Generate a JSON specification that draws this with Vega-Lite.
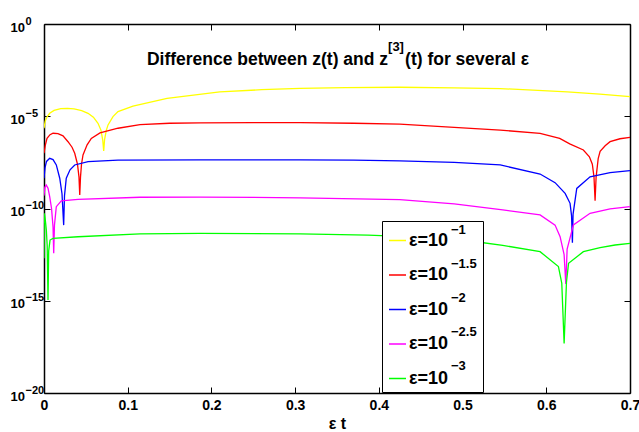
{
  "$schema": "https://vega.github.io/schema/vega-lite/v6.json",
  "width": 586,
  "height": 369,
  "autosize": {"type": "none"},
  "padding": {"left": 44, "top": 24, "right": 9, "bottom": 39},
  "background": "white",
  "config": {"view": {"stroke": null}, "font": "Liberation Sans"},
  "datasets": {
    "curves": [
      {"e": "−1", "t": 0, "v": 2.24e-6},
      {"e": "−1", "t": 0.0015, "v": 5.62e-6},
      {"e": "−1", "t": 0.004, "v": 1.0e-5},
      {"e": "−1", "t": 0.0068, "v": 1.45e-5},
      {"e": "−1", "t": 0.012, "v": 2.09e-5},
      {"e": "−1", "t": 0.02, "v": 2.57e-5},
      {"e": "−1", "t": 0.028, "v": 2.69e-5},
      {"e": "−1", "t": 0.036, "v": 2.51e-5},
      {"e": "−1", "t": 0.045, "v": 2.0e-5},
      {"e": "−1", "t": 0.0526, "v": 1.45e-5},
      {"e": "−1", "t": 0.059, "v": 8.9e-6},
      {"e": "−1", "t": 0.0645, "v": 4.17e-6},
      {"e": "−1", "t": 0.068, "v": 1.78e-6},
      {"e": "−1", "t": 0.0702, "v": 5.0e-7},
      {"e": "−1", "t": 0.0713, "v": 1.32e-7},
      {"e": "−1", "t": 0.0724, "v": 5.62e-7},
      {"e": "−1", "t": 0.0745, "v": 1.78e-6},
      {"e": "−1", "t": 0.0765, "v": 3.39e-6},
      {"e": "−1", "t": 0.0824, "v": 9.55e-6},
      {"e": "−1", "t": 0.0884, "v": 1.78e-5},
      {"e": "−1", "t": 0.1063, "v": 3.55e-5},
      {"e": "−1", "t": 0.147, "v": 9.33e-5},
      {"e": "−1", "t": 0.21, "v": 2.09e-4},
      {"e": "−1", "t": 0.26, "v": 2.75e-4},
      {"e": "−1", "t": 0.306, "v": 3.24e-4},
      {"e": "−1", "t": 0.36, "v": 3.55e-4},
      {"e": "−1", "t": 0.425, "v": 3.72e-4},
      {"e": "−1", "t": 0.49, "v": 3.47e-4},
      {"e": "−1", "t": 0.545, "v": 3.16e-4},
      {"e": "−1", "t": 0.59, "v": 2.51e-4},
      {"e": "−1", "t": 0.625, "v": 2.09e-4},
      {"e": "−1", "t": 0.664, "v": 1.58e-4},
      {"e": "−1", "t": 0.7, "v": 1.15e-4},

      {"e": "−1.5", "t": 0, "v": 1.0e-7},
      {"e": "−1.5", "t": 0.0016, "v": 2.75e-7},
      {"e": "−1.5", "t": 0.0036, "v": 6.31e-7},
      {"e": "−1.5", "t": 0.0072, "v": 1.0e-6},
      {"e": "−1.5", "t": 0.0108, "v": 1.2e-6},
      {"e": "−1.5", "t": 0.0167, "v": 1.15e-6},
      {"e": "−1.5", "t": 0.0227, "v": 8.7e-7},
      {"e": "−1.5", "t": 0.0287, "v": 4.17e-7},
      {"e": "−1.5", "t": 0.0335, "v": 2.09e-7},
      {"e": "−1.5", "t": 0.0367, "v": 9.8e-8},
      {"e": "−1.5", "t": 0.04, "v": 2.51e-8},
      {"e": "−1.5", "t": 0.0418, "v": 5.0e-9},
      {"e": "−1.5", "t": 0.0427, "v": 5.37e-10},
      {"e": "−1.5", "t": 0.0436, "v": 5.0e-9},
      {"e": "−1.5", "t": 0.0448, "v": 2.51e-8},
      {"e": "−1.5", "t": 0.0466, "v": 7.94e-8},
      {"e": "−1.5", "t": 0.0515, "v": 2.82e-7},
      {"e": "−1.5", "t": 0.0565, "v": 6.31e-7},
      {"e": "−1.5", "t": 0.0669, "v": 1.26e-6},
      {"e": "−1.5", "t": 0.0884, "v": 2.24e-6},
      {"e": "−1.5", "t": 0.1147, "v": 3.55e-6},
      {"e": "−1.5", "t": 0.15, "v": 4.17e-6},
      {"e": "−1.5", "t": 0.1864, "v": 4.37e-6},
      {"e": "−1.5", "t": 0.25, "v": 4.57e-6},
      {"e": "−1.5", "t": 0.306, "v": 4.47e-6},
      {"e": "−1.5", "t": 0.37, "v": 4.17e-6},
      {"e": "−1.5", "t": 0.425, "v": 3.72e-6},
      {"e": "−1.5", "t": 0.49, "v": 2.51e-6},
      {"e": "−1.5", "t": 0.545, "v": 1.78e-6},
      {"e": "−1.5", "t": 0.5926, "v": 1.17e-6},
      {"e": "−1.5", "t": 0.616, "v": 6.31e-7},
      {"e": "−1.5", "t": 0.628, "v": 3.16e-7},
      {"e": "−1.5", "t": 0.6443, "v": 1.48e-7},
      {"e": "−1.5", "t": 0.6515, "v": 6.31e-8},
      {"e": "−1.5", "t": 0.655, "v": 2.51e-8},
      {"e": "−1.5", "t": 0.657, "v": 5.0e-9},
      {"e": "−1.5", "t": 0.6583, "v": 2.63e-10},
      {"e": "−1.5", "t": 0.6595, "v": 5.0e-9},
      {"e": "−1.5", "t": 0.662, "v": 5.0e-8},
      {"e": "−1.5", "t": 0.6643, "v": 1.26e-7},
      {"e": "−1.5", "t": 0.6703, "v": 2.51e-7},
      {"e": "−1.5", "t": 0.6762, "v": 4.17e-7},
      {"e": "−1.5", "t": 0.688, "v": 6.03e-7},
      {"e": "−1.5", "t": 0.7, "v": 7.24e-7},

      {"e": "−2", "t": 0, "v": 4.37e-9},
      {"e": "−2", "t": 0.0012, "v": 1.58e-8},
      {"e": "−2", "t": 0.003, "v": 3.55e-8},
      {"e": "−2", "t": 0.0068, "v": 5.25e-8},
      {"e": "−2", "t": 0.0108, "v": 4.47e-8},
      {"e": "−2", "t": 0.0147, "v": 2.29e-8},
      {"e": "−2", "t": 0.0188, "v": 4.37e-9},
      {"e": "−2", "t": 0.0215, "v": 6.31e-10},
      {"e": "−2", "t": 0.0235, "v": 1.26e-11},
      {"e": "−2", "t": 0.0245, "v": 5.0e-10},
      {"e": "−2", "t": 0.0266, "v": 4.37e-9},
      {"e": "−2", "t": 0.0311, "v": 1.26e-8},
      {"e": "−2", "t": 0.0367, "v": 2.29e-8},
      {"e": "−2", "t": 0.0526, "v": 3.47e-8},
      {"e": "−2", "t": 0.0884, "v": 4.17e-8},
      {"e": "−2", "t": 0.1864, "v": 4.27e-8},
      {"e": "−2", "t": 0.306, "v": 4.27e-8},
      {"e": "−2", "t": 0.37, "v": 4.17e-8},
      {"e": "−2", "t": 0.425, "v": 3.8e-8},
      {"e": "−2", "t": 0.49, "v": 3.16e-8},
      {"e": "−2", "t": 0.545, "v": 2.29e-8},
      {"e": "−2", "t": 0.5926, "v": 7.41e-9},
      {"e": "−2", "t": 0.6105, "v": 2.51e-9},
      {"e": "−2", "t": 0.6225, "v": 6.61e-10},
      {"e": "−2", "t": 0.6284, "v": 1.91e-10},
      {"e": "−2", "t": 0.6302, "v": 3.98e-11},
      {"e": "−2", "t": 0.6312, "v": 1.41e-12},
      {"e": "−2", "t": 0.632, "v": 5.0e-11},
      {"e": "−2", "t": 0.6364, "v": 1.23e-9},
      {"e": "−2", "t": 0.6523, "v": 5.25e-9},
      {"e": "−2", "t": 0.6762, "v": 8.91e-9},
      {"e": "−2", "t": 0.7, "v": 1.12e-8},

      {"e": "−2.5", "t": 0, "v": 5.0e-10},
      {"e": "−2.5", "t": 0.001, "v": 1.41e-9},
      {"e": "−2.5", "t": 0.0027, "v": 1.86e-9},
      {"e": "−2.5", "t": 0.0048, "v": 1.26e-9},
      {"e": "−2.5", "t": 0.0068, "v": 4.37e-10},
      {"e": "−2.5", "t": 0.009, "v": 1.0e-10},
      {"e": "−2.5", "t": 0.0108, "v": 1.0e-11},
      {"e": "−2.5", "t": 0.0116, "v": 3.72e-13},
      {"e": "−2.5", "t": 0.0125, "v": 1.26e-11},
      {"e": "−2.5", "t": 0.0147, "v": 1.26e-10},
      {"e": "−2.5", "t": 0.0207, "v": 2.63e-10},
      {"e": "−2.5", "t": 0.0406, "v": 3.16e-10},
      {"e": "−2.5", "t": 0.1147, "v": 4.07e-10},
      {"e": "−2.5", "t": 0.1864, "v": 4.17e-10},
      {"e": "−2.5", "t": 0.306, "v": 3.8e-10},
      {"e": "−2.5", "t": 0.425, "v": 3.02e-10},
      {"e": "−2.5", "t": 0.49, "v": 1.78e-10},
      {"e": "−2.5", "t": 0.548, "v": 8.32e-11},
      {"e": "−2.5", "t": 0.5926, "v": 4.47e-11},
      {"e": "−2.5", "t": 0.6105, "v": 1.26e-11},
      {"e": "−2.5", "t": 0.6165, "v": 2.95e-12},
      {"e": "−2.5", "t": 0.6213, "v": 3.16e-13},
      {"e": "−2.5", "t": 0.6233, "v": 8.13e-15},
      {"e": "−2.5", "t": 0.6249, "v": 6.31e-13},
      {"e": "−2.5", "t": 0.6324, "v": 1.29e-11},
      {"e": "−2.5", "t": 0.6523, "v": 5.5e-11},
      {"e": "−2.5", "t": 0.6762, "v": 9.55e-11},
      {"e": "−2.5", "t": 0.7, "v": 1.26e-10},

      {"e": "−3", "t": 0, "v": 2.0e-13},
      {"e": "−3", "t": 0.0004, "v": 5.5e-11},
      {"e": "−3", "t": 0.0015, "v": 2.51e-11},
      {"e": "−3", "t": 0.0028, "v": 6.76e-12},
      {"e": "−3", "t": 0.0038, "v": 1.0e-12},
      {"e": "−3", "t": 0.0048, "v": 1.1e-15},
      {"e": "−3", "t": 0.0056, "v": 5.0e-13},
      {"e": "−3", "t": 0.0072, "v": 1.95e-12},
      {"e": "−3", "t": 0.0108, "v": 2.4e-12},
      {"e": "−3", "t": 0.0406, "v": 2.95e-12},
      {"e": "−3", "t": 0.1147, "v": 4.17e-12},
      {"e": "−3", "t": 0.1864, "v": 4.47e-12},
      {"e": "−3", "t": 0.306, "v": 4.17e-12},
      {"e": "−3", "t": 0.387, "v": 3.63e-12},
      {"e": "−3", "t": 0.45, "v": 2.82e-12},
      {"e": "−3", "t": 0.516, "v": 1.58e-12},
      {"e": "−3", "t": 0.548, "v": 1.0e-12},
      {"e": "−3", "t": 0.5926, "v": 4.57e-13},
      {"e": "−3", "t": 0.6145, "v": 7.08e-14},
      {"e": "−3", "t": 0.6185, "v": 8.91e-15},
      {"e": "−3", "t": 0.6213, "v": 4.9e-18},
      {"e": "−3", "t": 0.6241, "v": 1.0e-14},
      {"e": "−3", "t": 0.6266, "v": 1.07e-13},
      {"e": "−3", "t": 0.6443, "v": 4.57e-13},
      {"e": "−3", "t": 0.6643, "v": 7.59e-13},
      {"e": "−3", "t": 0.6822, "v": 1.05e-12},
      {"e": "−3", "t": 0.7, "v": 1.29e-12}
    ]
  },
  "layer": [
    {
      "data": {"name": "curves"},
      "mark": {"type": "line", "clip": true},
      "encoding": {
        "x": {
          "field": "t", "type": "quantitative",
          "scale": {"domain": [0, 0.7], "nice": false, "zero": false},
          "axis": {
            "values": [0, 0.1, 0.2, 0.3, 0.4, 0.5, 0.6, 0.7],
            "labelExpr": "datum.value == 0 ? '0' : format(datum.value, '.1f')",
            "title": "ε t",
            "titleFont": "Liberation Sans", "titleFontWeight": "bold", "titleFontSize": 16, "titleColor": "black", "titlePadding": 3,
            "labelFont": "Liberation Sans", "labelFontWeight": "bold", "labelFontSize": 14, "labelColor": "black", "labelPadding": 5,
            "labelFlush": false, "ticks": false,
            "domainColor": "black", "domainWidth": 1.5, "grid": false
          }
        },
        "y": {
          "field": "v", "type": "quantitative",
          "scale": {"type": "log", "domain": [1e-20, 1], "nice": false},
          "axis": {
            "values": [1e-20, 1e-15, 1e-10, 1e-5, 1],
            "labelExpr": "'10'",
            "title": null,
            "labelFont": "Liberation Sans", "labelFontWeight": "bold", "labelFontSize": 13, "labelColor": "black",
            "labelAlign": "left", "labelPadding": 34, "labelOffset": 3,
            "ticks": false,
            "domainColor": "black", "domainWidth": 1.5, "grid": false
          }
        },
        "color": {
          "field": "e", "type": "nominal",
          "scale": {
            "domain": ["−1", "−1.5", "−2", "−2.5", "−3"],
            "range": ["#FFFF00", "#FF0000", "#0000FF", "#FF00FF", "#00FF00"]
          },
          "legend": {
            "title": null, "orient": "none", "legendX": 338, "legendY": 201, "zindex": 2,
            "labelExpr": "'ε=10'",
            "symbolType": "stroke", "symbolSize": 289, "symbolStrokeWidth": 1.5,
            "labelFont": "Liberation Sans", "labelFontWeight": "bold", "labelFontSize": 18, "labelColor": "black",
            "labelOffset": 2, "labelLimit": 200,
            "padding": 6, "rowPadding": 15.5
          }
        },
        "strokeWidth": {
          "field": "e", "type": "nominal",
          "sort": ["−1", "−1.5", "−2", "−2.5", "−3"],
          "scale": {"type": "ordinal", "range": [1.3, 1.3, 1.3, 1.3, 1.3]},
          "legend": {
            "title": "⠀", "titleOrient": "bottom", "titleFontSize": 9, "titlePadding": 4,
            "orient": "none", "legendX": 338, "legendY": 197, "zindex": 1,
            "symbolType": "stroke", "symbolSize": 289, "symbolOpacity": 0, "symbolStrokeColor": "white",
            "labelFont": "Liberation Sans", "labelFontWeight": "bold", "labelFontSize": 13, "labelColor": "black",
            "labelBaseline": "bottom", "labelOffset": 44, "labelLimit": 200,
            "strokeColor": "black", "fillColor": "white",
            "padding": 6, "rowPadding": 20
          }
        }
      }
    },
    {
      "data": {"values": [{}]},
      "mark": {"type": "text", "font": "Liberation Sans", "fontWeight": "bold", "fontSize": 17.5, "align": "right", "baseline": "alphabetic", "color": "black"},
      "encoding": {
        "text": {"value": "Difference between z(t) and z"},
        "x": {"datum": 0.411, "type": "quantitative",
          "axis": {"orient": "top", "labels": false, "title": null, "values": [0, 0.1, 0.2, 0.3, 0.4, 0.5, 0.6, 0.7], "tickSize": -6, "tickColor": "black", "domainColor": "black", "domainWidth": 1.5, "grid": false}},
        "y": {"datum": 0.006, "type": "quantitative",
          "axis": {"orient": "right", "labels": false, "title": null, "values": [1e-20, 1e-15, 1e-10, 1e-5, 1], "tickSize": -6, "tickColor": "black", "domainColor": "black", "domainWidth": 1.5, "grid": false}}
      }
    },
    {
      "data": {"values": [{}]},
      "mark": {"type": "text", "font": "Liberation Sans", "fontWeight": "bold", "fontSize": 13, "align": "left", "baseline": "alphabetic", "color": "black"},
      "encoding": {
        "text": {"value": "[3]"},
        "x": {"datum": 0.411, "type": "quantitative",
          "axis": {"orient": "bottom", "labels": false, "title": null, "domain": false, "values": [0, 0.1, 0.2, 0.3, 0.4, 0.5, 0.6, 0.7], "tickSize": -6, "tickColor": "black", "grid": false}},
        "y": {"datum": 0.0366, "type": "quantitative",
          "axis": {"orient": "left", "title": null, "domain": false, "ticks": false, "grid": false,
            "values": [1e-20, 1e-15, 1e-10, 1e-5, 1],
            "labelExpr": "datum.value > 0.1 ? '0' : datum.value > 1e-6 ? '−5' : datum.value > 1e-11 ? '−10' : datum.value > 1e-16 ? '−15' : '−20'",
            "labelFont": "Liberation Sans", "labelFontWeight": "bold", "labelFontSize": 11, "labelColor": "black",
            "labelAlign": "left", "labelPadding": 19, "labelOffset": -3}}
      }
    },
    {
      "data": {"values": [{}]},
      "mark": {"type": "text", "font": "Liberation Sans", "fontWeight": "bold", "fontSize": 17.5, "align": "left", "baseline": "alphabetic", "color": "black"},
      "encoding": {
        "text": {"value": "(t) for several ε"},
        "x": {"datum": 0.4313, "type": "quantitative", "axis": null},
        "y": {"datum": 0.006, "type": "quantitative",
          "axis": {"orient": "left", "labels": false, "title": null, "domain": false, "values": [1e-20, 1e-15, 1e-10, 1e-5, 1], "tickSize": -6, "tickColor": "black", "grid": false}}
      }
    }
  ],
  "resolve": {"axis": {"x": "independent", "y": "independent"}}
}
